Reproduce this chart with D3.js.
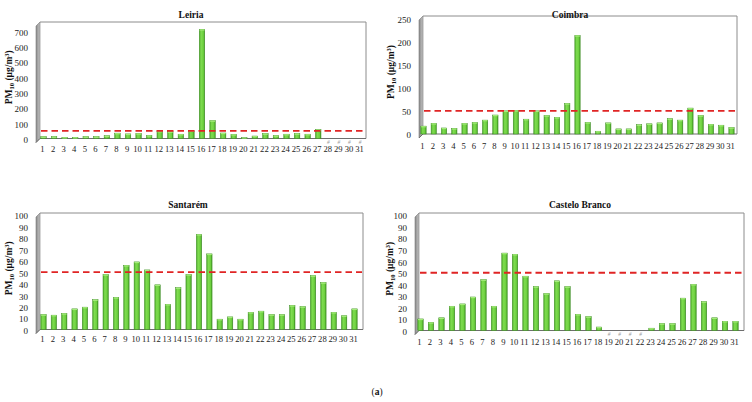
<!DOCTYPE html>
<html><head><meta charset="utf-8">
<script src="https://cdn.jsdelivr.net/npm/d3@7"></script>
<style>body{margin:0;background:#fff}svg{display:block}text{font-family:"Liberation Serif","DejaVu Serif",serif}</style>
</head><body><svg id="c" width="752" height="402"></svg>
<script>
const days = d3.range(1, 32);
const limit = 50;
// null = no data (marked "#")
const leiria = [12,12,8,8,12,12,18,35,30,33,20,48,45,28,50,712,117,36,27,5,16,32,19,28,32,28,58,null,null,null,null];
const coimbra = [17,23,13,12,23,25,30,41,50,51,32,50,40,36,66,213,25,6,24,11,11,20,22,24,33,30,56,40,21,19,14];
const santarem = [13,12.5,14,18,19.5,26,48,28,56,59,52,39,22,36.5,48,83,66,9,11,9,15,16,13,13,21,20,47,41,15,12,18];
const casteloBranco = [10,7,11,21,23,29,44,21,67,66,47,38,32,43,38,14,12,3,null,null,null,null,2,6,6,28,40,25,11,8,8];
const leiriaTicks = [0,100,200,300,400,500,600,700];
const coimbraTicks = [0,50,100,150,200,250];
const pctTicks = [0,10,20,30,40,50,60,70,80,90,100];

const panels = [
  {title:"Leiria", data:leiria, ticks:leiriaTicks, yMax:760, wall:36, left:40, right:366, top:22, floor:138.5, x1:42, x31:359, labY:151, tickX:28, yTitleX:12, titleX:191, titleY:18},
  {title:"Coimbra", data:coimbra, ticks:coimbraTicks, yMax:255, wall:419, left:423, right:737, top:16, floor:134, x1:422, x31:730, labY:148, tickX:411, yTitleX:394, titleX:570, titleY:18},
  {title:"Santarém", data:santarem, ticks:pctTicks, yMax:101.7, wall:36, left:40, right:363, top:213, floor:329.5, x1:42, x31:353, labY:341, tickX:28, yTitleX:12, titleX:188, titleY:208},
  {title:"Castelo Branco", data:casteloBranco, ticks:pctTicks, yMax:101.7, wall:415, left:419, right:744, top:213, floor:330.5, x1:419, x31:734, labY:344, tickX:407, yTitleX:393, titleX:580, titleY:208}
];

const svg = d3.select("#c");
const defs = svg.append("defs");
const g1 = defs.append("linearGradient").attr("id","barg").attr("x1","0").attr("x2","1").attr("y1","0").attr("y2","0");
g1.append("stop").attr("offset","0").attr("stop-color","#4fae2c");
g1.append("stop").attr("offset","0.35").attr("stop-color","#7fdc50");
g1.append("stop").attr("offset","0.75").attr("stop-color","#6ccf3e");
g1.append("stop").attr("offset","1").attr("stop-color","#3e9322");
const g2 = defs.append("linearGradient").attr("id","wallg").attr("x1","0").attr("x2","1").attr("y1","0").attr("y2","0");
g2.append("stop").attr("offset","0").attr("stop-color","#8a8a8a");
g2.append("stop").attr("offset","1").attr("stop-color","#c4c4c4");

panels.forEach(p => {
  const g = svg.append("g");
  const step = (p.x31 - p.x1) / 30;
  const x = d3.scaleBand().domain(days).range([p.x1 - step/2 + 1.5, p.x31 + step/2 + 1.5]).paddingInner(0.48).paddingOuter(0.24);
  const xl = d3.scalePoint().domain(days).range([p.x1, p.x31]);
  const y = d3.scaleLinear().domain([0, p.yMax]).range([p.floor, p.top]);

  g.append("path").attr("d", `M${p.left},${p.top}H${p.right}V${p.floor}`)
    .attr("fill","none").attr("stroke","#8c8c8c").attr("stroke-width",1);
  g.append("path").attr("d", `M${p.wall},${p.top+4}L${p.left},${p.top}V${p.floor}L${p.wall},${p.floor+4}Z`)
    .attr("fill","url(#wallg)").attr("stroke","#7a7a7a").attr("stroke-width",0.6);
  g.append("path").attr("d", `M${p.wall},${p.floor+4}L${p.left},${p.floor}H${p.right}`)
    .attr("fill","none").attr("stroke","#6e6e6e").attr("stroke-width",1);

  const ya = d3.axisLeft(y).tickValues(p.ticks).tickSize(0).tickPadding(0);
  const ag = g.append("g").attr("transform",`translate(${p.tickX},1)`).call(ya);
  ag.select(".domain").remove();
  ag.selectAll("text").attr("font-size","9px").attr("fill","#222").attr("font-family","Liberation Serif, serif");

  const xa = d3.axisBottom(xl).tickSize(0).tickPadding(0);
  const xg = g.append("g").attr("transform",`translate(0,${p.labY-5})`).call(xa);
  xg.select(".domain").remove();
  xg.selectAll("text").attr("font-size","8.6px").attr("fill","#222").attr("font-family","Liberation Serif, serif");

  const bw = x.bandwidth();
  const vals = p.data.map((v,i)=>({d:days[i], v}));
  const bars = g.append("g");
  vals.filter(o=>o.v!==null).forEach(o=>{
    const bx = x(o.d), by = y(o.v), bh = p.floor - by;
    bars.append("rect").attr("x",bx).attr("y",by).attr("width",bw).attr("height",Math.max(bh,0.8))
      .attr("fill","url(#barg)").attr("stroke","#3a8a20").attr("stroke-width",0.5);
    bars.append("rect").attr("x",bx+0.3).attr("y",by).attr("width",bw-0.6).attr("height",Math.min(1.2,Math.max(bh,0.8)))
      .attr("fill","#a6ec7c");
  });
  vals.filter(o=>o.v===null).forEach(o=>{
    g.append("text").attr("x",xl(o.d)+1).attr("y",p.floor+5.8).attr("text-anchor","middle")
      .attr("font-size","5.5px").attr("font-style","italic").attr("fill","#999").text("#");
  });

  g.append("line").attr("x1",p.left+1).attr("x2",p.right-1).attr("y1",y(limit)).attr("y2",y(limit))
    .attr("stroke","#e02424").attr("stroke-width",1.8).attr("stroke-dasharray","6.5,4");

  g.append("text").attr("x",p.titleX).attr("y",p.titleY).attr("text-anchor","middle")
    .attr("font-size","9.5px").attr("font-weight","bold").attr("fill","#111").text(p.title);

  const cy = (p.top + p.floor)/2 - 3;
  const t = g.append("text").attr("transform",`translate(${p.yTitleX},${cy}) rotate(-90)`)
    .attr("text-anchor","middle").attr("font-size","9.5px").attr("font-weight","bold").attr("fill","#111");
  t.append("tspan").text("PM");
  t.append("tspan").attr("font-size","6.5px").attr("dy","2").text("10");
  t.append("tspan").attr("dy","-2").text(" (µg/m");
  t.append("tspan").attr("font-size","6.5px").attr("dy","-3.5").text("3");
  t.append("tspan").attr("dy","3.5").text(")");
});

const cap = svg.append("text").attr("x",377).attr("y",395).attr("text-anchor","middle").attr("font-size","9.5px").attr("fill","#111");
cap.append("tspan").text("(");
cap.append("tspan").attr("font-weight","bold").text("a");
cap.append("tspan").text(")");
</script></body></html>
